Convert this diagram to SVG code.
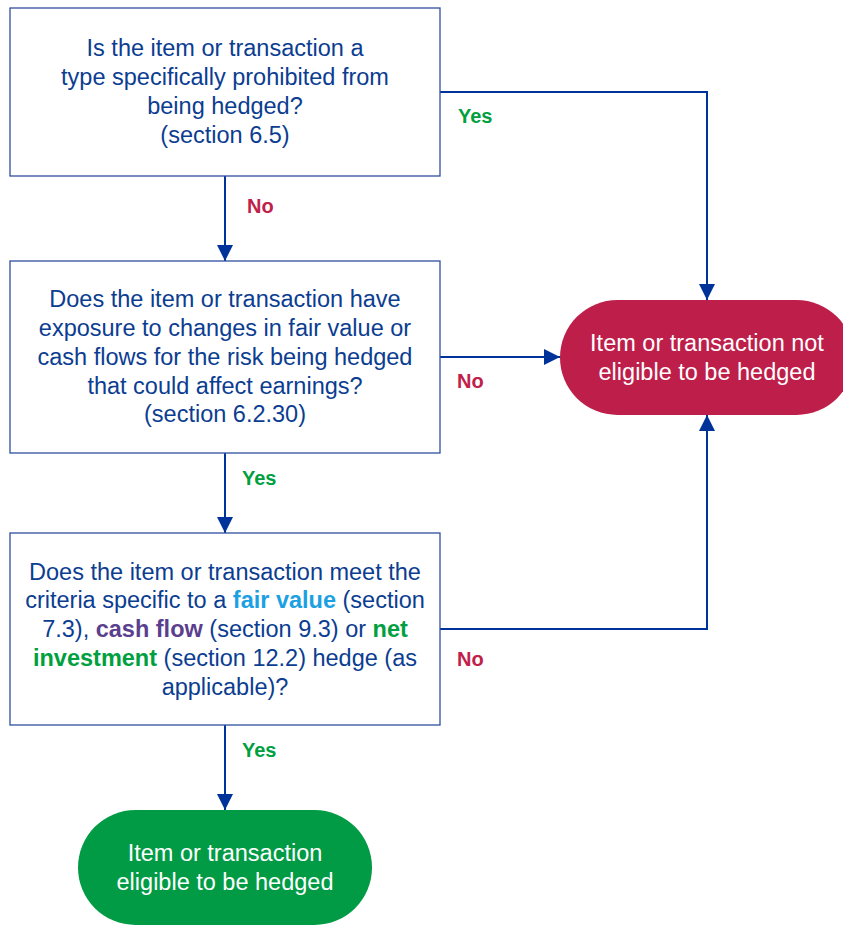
<svg xmlns="http://www.w3.org/2000/svg" width="843" height="926" viewBox="0 0 843 926">
<defs>
<marker id="ah" viewBox="0 0 10 10" refX="10" refY="5" markerWidth="16" markerHeight="16" markerUnits="userSpaceOnUse" orient="auto">
<path d="M0,0 L10,5 L0,10 z" fill="#003399"/>
</marker>
<style>
.box{fill:#fff;stroke:#2E4FA0;stroke-width:1.3}
.t{font-family:"Liberation Sans",Arial,sans-serif;font-size:23.5px;fill:#0B3D91;text-anchor:middle}
.w{font-family:"Liberation Sans",Arial,sans-serif;font-size:23.5px;fill:#fff;text-anchor:middle}
.lbl{font-family:"Liberation Sans",Arial,sans-serif;font-size:20px;font-weight:bold}
.no{fill:#C0204A}
.yes{fill:#00A040}
.c{fill:none;stroke:#003399;stroke-width:2;marker-end:url(#ah)}
</style>
</defs>
<rect width="843" height="926" fill="#fff"/>
<g id="connectors">
<path class="c" d="M225,176 V261"/>
<path class="c" d="M440,92 H707 V300"/>
<path class="c" d="M440,357 H560"/>
<path class="c" d="M225,453 V533"/>
<path class="c" d="M440,629 H707 V415"/>
<path class="c" d="M225,725 V810"/>
<text class="lbl no" x="247" y="213">No</text>
<text class="lbl yes" x="458" y="123">Yes</text>
<text class="lbl no" x="457" y="388">No</text>
<text class="lbl yes" x="242" y="485">Yes</text>
<text class="lbl no" x="457" y="666">No</text>
<text class="lbl yes" x="242" y="757">Yes</text>
</g>
<g id="q1">
<rect class="box" x="10" y="8" width="430" height="168"/>
<text class="t" x="225" y="56">Is the item or transaction a</text>
<text class="t" x="225" y="85">type specifically prohibited from</text>
<text class="t" x="225" y="114">being hedged?</text>
<text class="t" x="225" y="143">(section 6.5)</text>
</g>
<g id="q2">
<rect class="box" x="10" y="261" width="430" height="192"/>
<text class="t" x="225" y="307">Does the item or transaction have</text>
<text class="t" x="225" y="336">exposure to changes in fair value or</text>
<text class="t" x="225" y="365">cash flows for the risk being hedged</text>
<text class="t" x="225" y="394">that could affect earnings?</text>
<text class="t" x="225" y="422">(section 6.2.30)</text>
</g>
<g id="q3">
<rect class="box" x="10" y="533" width="430" height="192"/>
<text class="t" x="225" y="580">Does the item or transaction meet the</text>
<text class="t" x="225" y="608">criteria specific to a <tspan font-weight="bold" fill="#1BA1E2">fair value</tspan> (section</text>
<text class="t" x="225" y="637">7.3), <tspan font-weight="bold" fill="#5B3F8F">cash flow</tspan> (section 9.3) or <tspan font-weight="bold" fill="#00A040">net</tspan></text>
<text class="t" x="225" y="666"><tspan font-weight="bold" fill="#00A040">investment</tspan> (section 12.2) hedge (as</text>
<text class="t" x="225" y="695">applicable)?</text>
</g>
<g id="notEligible">
<rect x="560" y="300" width="294" height="115" rx="57.5" fill="#BE1E4A"/>
<text class="w" x="707" y="351">Item or transaction not</text>
<text class="w" x="707" y="380">eligible to be hedged</text>
</g>
<g id="eligible">
<rect x="78" y="810" width="294" height="115" rx="57.5" fill="#009B44"/>
<text class="w" x="225" y="861">Item or transaction</text>
<text class="w" x="225" y="890">eligible to be hedged</text>
</g>
</svg>
